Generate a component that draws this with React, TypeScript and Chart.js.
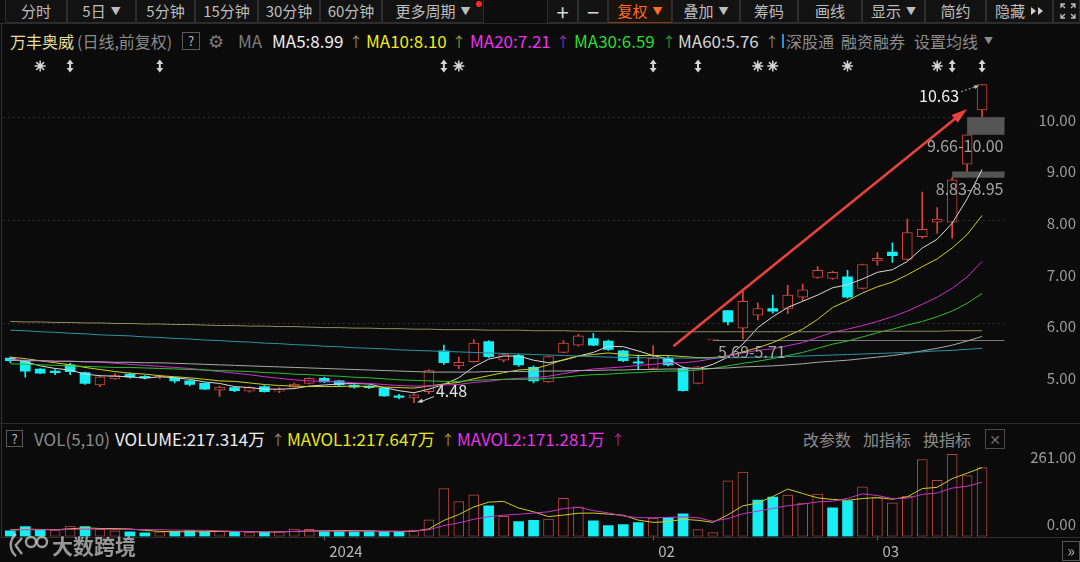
import React, { useEffect, useRef } from 'react';
import { Chart, registerables } from 'chart.js';

Chart.register(...registerables);

const FONT = '"Noto Sans CJK SC", "Noto Sans", "DejaVu Sans", sans-serif';
Chart.defaults.font.family = FONT;

// ---------------- data ----------------
const dates = [
  '2023-12-01', '2023-12-04', '2023-12-05', '2023-12-06', '2023-12-07', '2023-12-08', '2023-12-11', '2023-12-12', '2023-12-13', '2023-12-14',
  '2023-12-15', '2023-12-18', '2023-12-19', '2023-12-20', '2023-12-21', '2023-12-22', '2023-12-25', '2023-12-26', '2023-12-27', '2023-12-28',
  '2023-12-29', '2024-01-02', '2024-01-03', '2024-01-04', '2024-01-05', '2024-01-08', '2024-01-09', '2024-01-10', '2024-01-11', '2024-01-12',
  '2024-01-15', '2024-01-16', '2024-01-17', '2024-01-18', '2024-01-19', '2024-01-22', '2024-01-23', '2024-01-24', '2024-01-25', '2024-01-26',
  '2024-01-29', '2024-01-30', '2024-01-31', '2024-02-01', '2024-02-02', '2024-02-05', '2024-02-06', '2024-02-07', '2024-02-08', '2024-02-19',
  '2024-02-20', '2024-02-21', '2024-02-22', '2024-02-23', '2024-02-26', '2024-02-27', '2024-02-28', '2024-02-29', '2024-03-01', '2024-03-04',
  '2024-03-05', '2024-03-06', '2024-03-07', '2024-03-08', '2024-03-11', '2024-03-12',
];

const opens = [
  5.34, 5.28, 5.13, 5.09, 5.21, 5.06, 4.82, 4.94, 5.03, 4.99,
  4.97, 4.96, 4.90, 4.85, 4.72, 4.77, 4.70, 4.79, 4.70, 4.78,
  4.85, 4.95, 4.90, 4.82, 4.80, 4.76, 4.61, 4.57, 4.69, 5.48,
  5.19, 5.27, 5.66, 5.30, 5.39, 5.16, 4.88, 5.45, 5.59, 5.72,
  5.67, 5.48, 5.27, 5.14, 5.34, 5.14, 4.85, 5.69, 6.26, 5.92,
  6.17, 6.30, 6.30, 6.52, 6.90, 6.88, 6.91, 6.69, 7.22, 7.39,
  7.25, 7.69, 7.97, 7.97, 9.09, 10.14,
];
const highs = [
  5.36, 5.30, 5.14, 5.12, 5.24, 5.07, 4.99, 5.04, 5.05, 5.00,
  5.01, 4.97, 4.91, 4.86, 4.80, 4.78, 4.79, 4.81, 4.77, 4.86,
  4.96, 4.97, 4.91, 4.83, 4.81, 4.77, 4.64, 4.65, 5.12, 5.59,
  5.36, 5.70, 5.68, 5.43, 5.42, 5.19, 5.38, 5.68, 5.80, 5.82,
  5.69, 5.49, 5.40, 5.58, 5.37, 5.17, 5.18, 5.69, 6.26, 6.64,
  6.41, 6.56, 6.75, 6.77, 7.11, 7.02, 7.04, 7.16, 7.38, 7.57,
  8.03, 8.55, 8.25, 8.83, 9.66, 10.63,
];
const lows = [
  5.25, 4.97, 5.04, 5.02, 5.02, 4.83, 4.79, 4.93, 4.95, 4.94,
  4.94, 4.86, 4.80, 4.73, 4.60, 4.69, 4.68, 4.68, 4.67, 4.76,
  4.84, 4.87, 4.80, 4.76, 4.75, 4.60, 4.55, 4.48, 4.65, 5.22,
  5.13, 5.26, 5.35, 5.26, 5.18, 4.86, 4.87, 5.44, 5.57, 5.58,
  5.49, 5.27, 5.11, 5.12, 5.19, 4.70, 4.84, 5.69, 5.98, 5.71,
  6.08, 6.21, 6.20, 6.45, 6.88, 6.86, 6.50, 6.68, 7.14, 7.19,
  7.24, 7.66, 7.75, 7.66, 8.95, 10.00,
];
const closes = [
  5.29, 5.09, 5.05, 5.06, 5.08, 4.85, 4.98, 5.00, 4.97, 4.96,
  4.98, 4.90, 4.83, 4.74, 4.78, 4.71, 4.77, 4.69, 4.73, 4.84,
  4.95, 4.88, 4.82, 4.78, 4.77, 4.61, 4.58, 4.63, 5.10, 5.25,
  5.26, 5.63, 5.37, 5.41, 5.21, 4.90, 5.37, 5.63, 5.77, 5.59,
  5.51, 5.29, 5.24, 5.34, 5.21, 4.71, 5.17, 5.69, 6.04, 6.44,
  6.30, 6.25, 6.56, 6.66, 7.04, 7.00, 6.52, 7.15, 7.27, 7.32,
  7.77, 7.83, 8.03, 8.79, 9.66, 10.63,
];
const closeBeforeFirst = 5.36;

const ma5 = [
  5.33, 5.27, 5.19, 5.14, 5.11, 5.03, 5.00, 4.99, 4.98, 4.95,
  4.98, 4.96, 4.93, 4.88, 4.85, 4.79, 4.77, 4.74, 4.74, 4.75,
  4.80, 4.82, 4.84, 4.85, 4.84, 4.77, 4.71, 4.67, 4.74, 4.83,
  4.96, 5.17, 5.32, 5.38, 5.38, 5.30, 5.25, 5.30, 5.38, 5.45,
  5.57, 5.56, 5.48, 5.39, 5.32, 5.16, 5.13, 5.22, 5.36, 5.61,
  5.93, 6.14, 6.32, 6.44, 6.56, 6.70, 6.76, 6.87, 7.00, 7.05,
  7.21, 7.47, 7.64, 7.95, 8.42, 8.99,
];
const ma10 = [
  5.36, 5.33, 5.29, 5.25, 5.21, 5.16, 5.12, 5.08, 5.05, 5.03,
  5.00, 4.98, 4.96, 4.93, 4.90, 4.89, 4.86, 4.83, 4.81, 4.80,
  4.79, 4.79, 4.79, 4.80, 4.79, 4.78, 4.77, 4.76, 4.80, 4.84,
  4.87, 4.94, 5.00, 5.06, 5.11, 5.13, 5.21, 5.31, 5.38, 5.41,
  5.44, 5.41, 5.39, 5.39, 5.39, 5.37, 5.35, 5.35, 5.38, 5.46,
  5.54, 5.64, 5.77, 5.90, 6.09, 6.32, 6.45, 6.60, 6.72, 6.81,
  6.95, 7.11, 7.26, 7.47, 7.73, 8.10,
];
const ma20 = [
  5.31, 5.30, 5.29, 5.28, 5.28, 5.27, 5.26, 5.24, 5.22, 5.20,
  5.18, 5.16, 5.14, 5.11, 5.08, 5.05, 5.02, 4.98, 4.95, 4.92,
  4.90, 4.89, 4.88, 4.86, 4.85, 4.83, 4.81, 4.80, 4.80, 4.82,
  4.83, 4.87, 4.89, 4.93, 4.95, 4.96, 4.99, 5.04, 5.09, 5.13,
  5.15, 5.17, 5.20, 5.22, 5.25, 5.25, 5.28, 5.33, 5.38, 5.44,
  5.49, 5.52, 5.58, 5.64, 5.74, 5.84, 5.90, 5.97, 6.05, 6.14,
  6.25, 6.38, 6.52, 6.69, 6.91, 7.21,
];
const ma30 = [
  5.23, 5.22, 5.21, 5.20, 5.19, 5.18, 5.17, 5.16, 5.16, 5.15,
  5.14, 5.13, 5.12, 5.11, 5.10, 5.09, 5.08, 5.06, 5.05, 5.03,
  5.02, 5.00, 4.99, 4.97, 4.96, 4.94, 4.92, 4.91, 4.90, 4.89,
  4.89, 4.91, 4.92, 4.93, 4.93, 4.93, 4.95, 4.97, 5.00, 5.02,
  5.03, 5.05, 5.06, 5.08, 5.09, 5.09, 5.11, 5.14, 5.19, 5.24,
  5.28, 5.33, 5.39, 5.45, 5.53, 5.61, 5.67, 5.75, 5.83, 5.90,
  5.98, 6.05, 6.14, 6.25, 6.40, 6.59,
];
const ma60 = [
  5.30, 5.29, 5.29, 5.28, 5.28, 5.27, 5.27, 5.26, 5.26, 5.25,
  5.25, 5.24, 5.23, 5.22, 5.21, 5.20, 5.19, 5.18, 5.17, 5.16,
  5.15, 5.14, 5.13, 5.12, 5.11, 5.10, 5.09, 5.08, 5.07, 5.07,
  5.07, 5.07, 5.08, 5.08, 5.08, 5.08, 5.09, 5.09, 5.10, 5.10,
  5.11, 5.11, 5.12, 5.12, 5.13, 5.13, 5.14, 5.14, 5.15, 5.17,
  5.18, 5.19, 5.21, 5.23, 5.26, 5.28, 5.30, 5.33, 5.36, 5.39,
  5.43, 5.48, 5.53, 5.59, 5.67, 5.76,
];
const longLineKhaki = [
  6.05, 6.04, 6.04, 6.03, 6.03, 6.02, 6.02, 6.01, 6.01, 6.00,
  6.00, 5.99, 5.99, 5.98, 5.97, 5.97, 5.96, 5.96, 5.95, 5.95,
  5.94, 5.93, 5.93, 5.92, 5.92, 5.91, 5.91, 5.90, 5.90, 5.89,
  5.89, 5.89, 5.88, 5.88, 5.88, 5.87, 5.87, 5.87, 5.86, 5.86,
  5.86, 5.86, 5.85, 5.85, 5.85, 5.85, 5.85, 5.85, 5.85, 5.85,
  5.85, 5.85, 5.85, 5.85, 5.85, 5.85, 5.85, 5.86, 5.86, 5.86,
  5.86, 5.86, 5.86, 5.87, 5.87, 5.87,
];
const longLineTeal = [
  5.88, 5.87, 5.85, 5.84, 5.82, 5.81, 5.79, 5.78, 5.77, 5.75,
  5.74, 5.72, 5.71, 5.69, 5.68, 5.66, 5.65, 5.63, 5.62, 5.60,
  5.59, 5.57, 5.56, 5.54, 5.53, 5.52, 5.50, 5.49, 5.48, 5.47,
  5.46, 5.45, 5.44, 5.43, 5.42, 5.41, 5.40, 5.39, 5.38, 5.37,
  5.36, 5.35, 5.35, 5.34, 5.34, 5.34, 5.34, 5.34, 5.35, 5.35,
  5.36, 5.36, 5.37, 5.38, 5.39, 5.40, 5.41, 5.42, 5.43, 5.44,
  5.45, 5.46, 5.48, 5.49, 5.51, 5.53,
];

// volume in 万
const volumes = [
  17.5, 30.7, 19.7, 19.7, 33.0, 30.7, 22.0, 17.5, 14.3, 11.0,
  14.3, 15.4, 18.6, 14.3, 16.4, 14.3, 13.2, 13.2, 14.3, 23.0,
  22.0, 16.4, 16.4, 14.3, 17.5, 15.4, 13.2, 19.7, 52.6, 151.0,
  109.7, 131.6, 96.5, 63.6, 47.2, 50.4, 54.8, 120.6, 93.2, 49.3,
  34.0, 37.3, 43.9, 57.0, 60.3, 71.3, 21.9, 12.0, 175.5, 202.9,
  115.1, 123.9, 130.5, 105.3, 133.8, 89.9, 112.0, 157.0, 122.0, 106.0,
  127.6, 243.0, 177.0, 259.0, 191.9, 217.3,
];
const mavol1 = [
  21, 23, 22, 21, 24.1, 26.8, 25.0, 24.6, 23.5, 19.1,
  15.8, 14.5, 14.7, 14.7, 15.8, 15.8, 15.4, 14.3, 14.3, 15.6,
  17.1, 17.8, 18.4, 18.4, 17.3, 16.0, 15.4, 16.0, 23.7, 50.4,
  69.2, 92.9, 108.3, 110.5, 89.7, 77.9, 62.5, 67.3, 73.2, 73.7,
  70.4, 66.9, 51.5, 44.3, 46.5, 54.0, 50.9, 44.5, 68.2, 96.7,
  105.5, 125.9, 149.6, 135.5, 121.7, 116.7, 114.3, 119.6, 122.9, 117.4,
  124.9, 151.1, 155.1, 182.5, 199.7, 217.6,
];
const mavol2 = [
  20, 21, 21, 21, 22, 23, 23, 22, 22, 21.6,
  21.3, 19.8, 19.7, 19.1, 17.5, 15.8, 14.9, 14.5, 14.5, 15.7,
  16.5, 16.6, 16.4, 16.4, 16.5, 16.6, 16.6, 17.2, 21.1, 33.9,
  42.6, 54.1, 62.2, 67.1, 70.1, 73.6, 77.7, 87.8, 91.9, 81.7,
  74.1, 64.7, 59.4, 58.8, 60.1, 62.2, 58.9, 48.0, 56.3, 71.6,
  79.7, 88.4, 97.0, 101.9, 109.2, 111.1, 120.1, 134.6, 129.2, 119.6,
  120.8, 132.7, 137.4, 152.7, 158.5, 171.3,
];

const priceTicks = [5, 6, 7, 8, 9, 10];
const volumeTicks = [0, 261];
const axisTickDates = ['2024-01-02', '2024-02-01', '2024-03-01'];
const axisTickTexts = ['2024', '02', '03'];

// info markers above the candles
const markerIndex = [2, 4, 10, 29, 30, 43, 46, 50, 51, 56, 62, 63, 65];
const markerKind = ['star', 'arrow', 'arrow', 'arrow', 'star', 'arrow', 'arrow', 'star', 'star', 'star', 'star', 'arrow', 'arrow'];

// gap zones
const gapLow = [5.69, 8.83, 9.66];
const gapHigh = [5.71, 8.95, 10.0];
const gapStart = [47, 63, 64];

// extreme labels
const highMarkIndex = 65;
const highMarkValue = 10.63;
const lowMarkIndex = 27;
const lowMarkValue = 4.48;

// hand-drawn trend arrow (index, price)
const trendFrom = [44.35, 5.57];
const trendTo = [64.0, 10.16];

// ---------------- style ----------------
const BG = '#0b0b0b';
const RED = '#d8463f';
const VRED = '#b9473f';
const CYAN = '#16eef3';
const GRID = '#2f2f2f';
const AXIS_TEXT = '#9c9c9c';

const labels = [...dates, ''];

function arrowHead(ctx: any, x1: number, y1: number, x2: number, y2: number, len: number, w: number, color: string) {
  const a = Math.atan2(y2 - y1, x2 - x1);
  const bx = x2 - len * Math.cos(a);
  const by = y2 - len * Math.sin(a);
  ctx.beginPath();
  ctx.moveTo(x2, y2);
  ctx.lineTo(bx + (w / 2) * Math.sin(a), by - (w / 2) * Math.cos(a));
  ctx.lineTo(bx - (w / 2) * Math.sin(a), by + (w / 2) * Math.cos(a));
  ctx.closePath();
  ctx.fillStyle = color;
  ctx.fill();
}

function drawStar(ctx: any, x: number, y: number) {
  ctx.save();
  ctx.strokeStyle = '#d4d4d4';
  ctx.fillStyle = '#d4d4d4';
  ctx.lineWidth = 1.5;
  for (let k = 0; k < 8; k++) {
    const a = (k * Math.PI) / 4;
    ctx.beginPath();
    ctx.moveTo(x, y);
    ctx.lineTo(x + 5.5 * Math.cos(a), y + 5.5 * Math.sin(a));
    ctx.stroke();
  }
  ctx.beginPath();
  ctx.arc(x, y, 2.4, 0, Math.PI * 2);
  ctx.fill();
  ctx.restore();
}

function drawUpDown(ctx: any, x: number, y: number) {
  ctx.save();
  ctx.fillStyle = '#d4d4d4';
  ctx.beginPath();
  ctx.moveTo(x, y - 6.5);
  ctx.lineTo(x + 3.5, y - 2);
  ctx.lineTo(x - 3.5, y - 2);
  ctx.closePath();
  ctx.fill();
  ctx.beginPath();
  ctx.moveTo(x, y + 6.5);
  ctx.lineTo(x + 3.5, y + 2);
  ctx.lineTo(x - 3.5, y + 2);
  ctx.closePath();
  ctx.fill();
  ctx.fillRect(x - 1, y - 2.5, 2, 5);
  ctx.restore();
}

const priceOverlay = {
  id: 'priceOverlay',
  beforeDatasetsDraw(chart: any) {
    const { ctx, chartArea } = chart;
    const xs = chart.scales.x;
    const ys = chart.scales.y;
    ctx.save();
    for (let k = 0; k < gapLow.length; k++) {
      const x0 = xs.getPixelForValue(gapStart[k]);
      const yTop = ys.getPixelForValue(gapHigh[k]);
      const yBot = ys.getPixelForValue(gapLow[k]);
      if (yBot - yTop < 3) {
        const ly = Math.round((yTop + yBot) / 2) + 0.5;
        ctx.strokeStyle = '#7a7a7a';
        ctx.lineWidth = 1;
        ctx.beginPath();
        ctx.moveTo(x0, ly);
        ctx.lineTo(chartArea.right, ly);
        ctx.stroke();
      } else {
        ctx.fillStyle = '#555555';
        ctx.fillRect(x0, yTop, chartArea.right - x0, yBot - yTop);
      }
    }
    ctx.restore();
  },
  afterDatasetsDraw(chart: any) {
    const { ctx, chartArea } = chart;
    const xs = chart.scales.x;
    const ys = chart.scales.y;
    ctx.save();
    // gap labels
    ctx.font = `16px ${FONT}`;
    ctx.fillStyle = '#a4a4a4';
    ctx.textBaseline = 'middle';
    for (let k = 0; k < gapLow.length; k++) {
      const x0 = xs.getPixelForValue(gapStart[k]);
      const yTop = ys.getPixelForValue(gapHigh[k]);
      const yBot = ys.getPixelForValue(gapLow[k]);
      const txt = `${gapLow[k].toFixed(2)}-${gapHigh[k].toFixed(2)}`;
      if (yBot - yTop < 3) {
        ctx.textAlign = 'left';
        ctx.fillText(txt, x0 + 5, yBot + 12);
      } else {
        ctx.textAlign = 'right';
        ctx.fillText(txt, chartArea.right - 1, yBot + 11.5);
      }
    }

    // trend arrow
    const ax1 = xs.getPixelForValue(trendFrom[0]);
    const ay1 = ys.getPixelForValue(trendFrom[1]);
    const ax2 = xs.getPixelForValue(trendTo[0]);
    const ay2 = ys.getPixelForValue(trendTo[1]);
    const ang = Math.atan2(ay2 - ay1, ax2 - ax1);
    ctx.strokeStyle = '#e8423b';
    ctx.lineWidth = 2.6;
    ctx.beginPath();
    ctx.moveTo(ax1, ay1);
    ctx.lineTo(ax2 - 10 * Math.cos(ang), ay2 - 10 * Math.sin(ang));
    ctx.stroke();
    arrowHead(ctx, ax1, ay1, ax2, ay2, 16, 10, '#e8423b');

    // high label
    const hx = xs.getPixelForValue(highMarkIndex);
    const hy = ys.getPixelForValue(highMarkValue);
    ctx.font = `16px ${FONT}`;
    ctx.fillStyle = '#f2f2f2';
    ctx.textAlign = 'right';
    ctx.fillText(highMarkValue.toFixed(2), hx - 23, hy + 11);
    ctx.strokeStyle = '#bdbdbd';
    ctx.lineWidth = 1;
    ctx.setLineDash([2, 2]);
    ctx.beginPath();
    ctx.moveTo(hx - 21, hy + 7);
    ctx.lineTo(hx - 5, hy + 1.5);
    ctx.stroke();
    ctx.setLineDash([]);
    arrowHead(ctx, hx - 21, hy + 7, hx - 3, hy + 1, 5, 4, '#bdbdbd');

    // low label
    const lx = xs.getPixelForValue(lowMarkIndex);
    const lyy = ys.getPixelForValue(lowMarkValue);
    ctx.fillStyle = '#e6e6e6';
    ctx.textAlign = 'left';
    ctx.fillText(lowMarkValue.toFixed(2), lx + 22, lyy - 12);
    ctx.strokeStyle = '#d0d0d0';
    ctx.beginPath();
    ctx.moveTo(lx + 20, lyy - 6);
    ctx.lineTo(lx + 6, lyy - 0.5);
    ctx.stroke();
    arrowHead(ctx, lx + 20, lyy - 6, lx + 3, lyy, 6, 4, '#d0d0d0');

    // info markers
    for (let k = 0; k < markerIndex.length; k++) {
      const mx = xs.getPixelForValue(markerIndex[k]);
      const my = chartArea.top + 10;
      if (markerKind[k] === 'star') drawStar(ctx, mx, my);
      else drawUpDown(ctx, mx, my);
    }

    // price axis labels
    ctx.font = `15px ${FONT}`;
    ctx.fillStyle = AXIS_TEXT;
    ctx.textAlign = 'right';
    ctx.textBaseline = 'middle';
    for (const v of priceTicks) {
      ctx.fillText(v.toFixed(2), chart.width - 4, ys.getPixelForValue(v) + 2.7);
    }
    ctx.restore();
  },
};

const volumeOverlay = {
  id: 'volumeOverlay',
  afterDatasetsDraw(chart: any) {
    const { ctx } = chart;
    const ys = chart.scales.y;
    ctx.save();
    ctx.font = `15px ${FONT}`;
    ctx.fillStyle = AXIS_TEXT;
    ctx.textAlign = 'right';
    ctx.textBaseline = 'middle';
    const top = volumeTicks[volumeTicks.length - 1];
    ctx.fillText(top.toFixed(2), chart.width - 4, ys.getPixelForValue(top) + 3.4);
    ctx.fillText(volumeTicks[0].toFixed(2), chart.width - 4, ys.getPixelForValue(volumeTicks[0]) - 12);
    ctx.restore();
  },
};

function lineDs(data: number[], color: string, width = 1) {
  return {
    type: 'line' as const,
    data,
    borderColor: color,
    borderWidth: width,
    pointRadius: 0,
    tension: 0,
    fill: false,
    order: 1,
  };
}

function priceConfig(): any {
  const up = closes.map((c, i) => c >= opens[i]);
  const candleColor = up.map((u) => (u ? RED : CYAN));
  return {
    type: 'bar',
    data: {
      labels,
      datasets: [
        lineDs(longLineKhaki, '#8f8d5c'),
        lineDs(longLineTeal, '#2b94a2'),
        lineDs(ma60, '#a9a9a9'),
        lineDs(ma30, '#2fbd2f'),
        lineDs(ma20, '#cf2fcf'),
        lineDs(ma10, '#cfcf1e'),
        lineDs(ma5, '#d9d9d9'),
        {
          type: 'bar',
          data: opens.map((o, i) => [o, closes[i]]),
          backgroundColor: up.map((u) => (u ? BG : CYAN)),
          borderColor: candleColor,
          borderWidth: up.map((u) => (u ? 1 : 0)),
          borderSkipped: false,
          barThickness: 10,
          minBarLength: 1,
          grouped: false,
          order: 2,
        },
        {
          type: 'bar',
          data: lows.map((l, i) => [l, highs[i]]),
          backgroundColor: candleColor,
          borderWidth: 0,
          barThickness: 1,
          grouped: false,
          order: 3,
        },
      ],
    },
    options: {
      responsive: false,
      animation: false,
      events: [],
      layout: { padding: { left: 2.8, right: 0, top: 0, bottom: 0 } },
      plugins: { legend: { display: false }, tooltip: { enabled: false } },
      scales: {
        x: { type: 'category', offset: true, display: false, grid: { display: false } },
        y: {
          position: 'right',
          min: 4.1044,
          max: 11.1838,
          afterFit: (s: any) => {
            s.width = 75.5;
          },
          afterBuildTicks: (s: any) => {
            s.ticks = priceTicks.map((v) => ({ value: v }));
          },
          ticks: { display: false },
          grid: {
            drawTicks: false,
            lineWidth: 1,
            color: (c: any) => (c.tick && c.tick.value % 2 === 0 ? GRID : 'rgba(0,0,0,0)'),
          },
          border: { display: false, dash: [2, 3] },
        },
      },
    },
    plugins: [priceOverlay],
  };
}

function volumeConfig(): any {
  const volUp = closes.map((c, i) => c >= (i === 0 ? closeBeforeFirst : closes[i - 1]));
  const tickIdx = axisTickDates.map((d) => dates.indexOf(d));
  return {
    type: 'bar',
    data: {
      labels,
      datasets: [
        lineDs(mavol2, '#c634c6'),
        lineDs(mavol1, '#cfcd20'),
        {
          type: 'bar',
          data: volumes,
          backgroundColor: volUp.map((u) => (u ? BG : CYAN)),
          borderColor: volUp.map((u) => (u ? VRED : CYAN)),
          borderWidth: volUp.map((u) => (u ? 1 : 0)),
          borderSkipped: false,
          barThickness: 10,
          grouped: false,
          order: 2,
        },
      ],
    },
    options: {
      responsive: false,
      animation: false,
      events: [],
      layout: { padding: { left: 2.8, right: 0, top: 4.8, bottom: 0 } },
      plugins: { legend: { display: false }, tooltip: { enabled: false } },
      scales: {
        x: {
          type: 'category',
          offset: true,
          afterFit: (s: any) => {
            s.height = 25.6;
          },
          grid: {
            offset: false,
            drawOnChartArea: false,
            drawTicks: true,
            tickLength: 4,
            color: (c: any) => (tickIdx.includes(c.index) ? '#6a6a6a' : 'rgba(0,0,0,0)'),
          },
          border: { display: false },
          ticks: {
            autoSkip: false,
            maxRotation: 0,
            minRotation: 0,
            align: 'start',
            labelOffset: 5,
            padding: 2,
            color: '#b8b8b8',
            font: { size: 15 },
            callback: (_v: any, i: number) => {
              const k = axisTickDates.indexOf(dates[i]);
              return k >= 0 ? axisTickTexts[k] : '';
            },
          },
        },
        y: {
          position: 'right',
          min: volumeTicks[0],
          max: volumeTicks[volumeTicks.length - 1],
          afterFit: (s: any) => {
            s.width = 75.5;
          },
          ticks: { display: false },
          grid: { display: false },
          border: { display: false },
        },
      },
    },
    plugins: [volumeOverlay],
  };
}

// ---------------- UI chrome ----------------
const toolbarButtons = [
  { t: '分时', l: 5, r: 67 },
  { t: '5日', l: 67, r: 136, caret: true },
  { t: '5分钟', l: 136, r: 195 },
  { t: '15分钟', l: 195, r: 258 },
  { t: '30分钟', l: 258, r: 320 },
  { t: '60分钟', l: 320, r: 382 },
  { t: '更多周期', l: 382, r: 484, caret: true, dot: true },
  { t: '+', l: 547, r: 578, big: true },
  { t: '−', l: 578, r: 608, big: true },
  { t: '复权', l: 608, r: 672, caret: true, active: true },
  { t: '叠加', l: 672, r: 740, caret: true },
  { t: '筹码', l: 740, r: 798 },
  { t: '画线', l: 798, r: 862 },
  { t: '显示', l: 862, r: 925, caret: true },
  { t: '简约', l: 925, r: 986 },
  { t: '隐藏', l: 986, r: 1053, extra: true },
  { t: '', l: 1053, r: 1080, icon: true },
];

const abs = (l: number, t: number, extra: any = {}) => ({ position: 'absolute' as const, left: l, top: t, whiteSpace: 'nowrap' as const, ...extra });

const LAT = 17; // latin text size in legend rows
const CJK = 16; // chinese text size in legend rows

export default function App() {
  const priceRef = useRef<HTMLCanvasElement>(null);
  const volRef = useRef<HTMLCanvasElement>(null);

  useEffect(() => {
    document.body.style.margin = '0';
    document.body.style.background = BG;
    const pc = new Chart(priceRef.current as HTMLCanvasElement, priceConfig());
    const vc = new Chart(volRef.current as HTMLCanvasElement, volumeConfig());
    return () => {
      pc.destroy();
      vc.destroy();
    };
  }, []);

  const rowFont = { fontSize: CJK, lineHeight: '20px', fontFamily: FONT };

  return (
    <div
      style={{
        position: 'fixed',
        left: 0,
        top: 0,
        width: 1080,
        height: 562,
        background: BG,
        overflow: 'hidden',
        fontFamily: FONT,
        color: '#c0c0c0',
      }}
    >
      {/* toolbar */}
      <div style={abs(0, 0, { width: 1080, height: 23, background: '#0d0d0d', borderBottom: '1px solid #2b2b2b' })} />
      {toolbarButtons.map((b, i) => (
        <div
          key={i}
          style={abs(b.l, 0, {
            width: b.r - b.l,
            height: 23,
            boxSizing: 'border-box',
            borderLeft: '1px solid #2e2e2e',
            borderRight: '1px solid #2e2e2e',
            borderBottom: b.active ? '1px solid #8a3d12' : '1px solid #2e2e2e',
            background: b.active ? '#1a120d' : '#121212',
            textAlign: 'center',
            fontSize: b.big ? 22 : 15,
            lineHeight: '22px',
            color: b.active ? '#ff6d22' : b.big ? '#d8d8d8' : '#bdbdbd',
          })}
        >
          {b.t}
          {b.caret ? <span style={{ fontSize: 10, marginLeft: 5, verticalAlign: 2 }}>▼</span> : null}
          {b.extra ? (
            <svg width="14" height="10" viewBox="0 0 14 10" style={{ marginLeft: 5, verticalAlign: 1 }}>
              <path d="M1 1 L6 5 L1 9 Z M8 1 L13 5 L8 9 Z" fill="#d0d0d0" />
            </svg>
          ) : null}
          {b.dot ? <span style={abs(b.r - b.l - 9, 1, { width: 6, height: 6, borderRadius: 3, background: '#ff2a2a' })} /> : null}
          {b.icon ? (
            <svg width="16" height="16" viewBox="0 0 16 16" style={{ position: 'absolute', left: 6, top: 3 }}>
              <g stroke="#bdbdbd" strokeWidth="1.3" fill="none">
                <path d="M1 5 V1 H5 M1 1 L5 5" />
                <path d="M11 1 H15 V5 M15 1 L11 5" />
                <path d="M1 11 V15 H5 M1 15 L5 11" />
                <path d="M15 11 V15 H11 M15 15 L11 11" />
              </g>
            </svg>
          ) : null}
        </div>
      ))}

      {/* price legend row */}
      <div style={{ ...rowFont, position: 'absolute', left: 0, top: 31, width: 1080, height: 20 }}>
        <span style={abs(10, 0, { color: '#eadc9c' })}>万丰奥威</span>
        <span style={abs(77, 0, { color: '#8a8a8a' })}>(日线,前复权)</span>
        <span style={abs(182, 1, { width: 18, height: 18, boxSizing: 'border-box', border: '1px solid #5a5a5a', fontSize: 13, lineHeight: '16px', textAlign: 'center', color: '#bbbbbb' })}>?</span>
        <span style={abs(208, -1, { color: '#7c7c7c', fontSize: 18 })}>⚙</span>
        <span style={abs(238, 0, { color: '#7c7c7c', fontSize: LAT })}>MA</span>
        <span style={abs(272, 0, { color: '#eeeeee', fontSize: LAT })}>MA5:8.99</span>
        <span style={abs(349, 0, { color: '#8a8a8a', fontSize: 14 })}>↑</span>
        <span style={abs(366, 0, { color: '#eded1f', fontSize: LAT })}>MA10:8.10</span>
        <span style={abs(452, 0, { color: '#9d9d24', fontSize: 14 })}>↑</span>
        <span style={abs(470, 0, { color: '#ee33ee', fontSize: LAT })}>MA20:7.21</span>
        <span style={abs(556, 0, { color: '#a32ca3', fontSize: 14 })}>↑</span>
        <span style={abs(574, 0, { color: '#2fdc2f', fontSize: LAT })}>MA30:6.59</span>
        <span style={abs(662, 0, { color: '#2c9f2c', fontSize: 14 })}>↑</span>
        <span style={abs(678, 0, { color: '#d6d6d6', fontSize: LAT })}>MA60:5.76</span>
        <span style={abs(765, 0, { color: '#8a8a8a', fontSize: 14 })}>↑</span>
        <span style={abs(782, 3, { width: 2, height: 14, background: '#2f8fd6' })} />
        <span style={abs(786, 0, { color: '#8c8c8c' })}>深股通</span>
        <span style={abs(841, 0, { color: '#8c8c8c' })}>融资融券</span>
        <span style={abs(914, 0, { color: '#8c8c8c' })}>设置均线</span>
        <span style={abs(984, 0, { color: '#8c8c8c', fontSize: 9 })}>▼</span>
      </div>

      <canvas ref={priceRef} width={1080} height={366} style={abs(0, 56, { width: 1080, height: 366 })} />

      {/* panel separator */}
      <div style={abs(0, 423, { width: 1080, height: 1, background: '#2b2b2b' })} />

      {/* volume legend row */}
      <div style={{ ...rowFont, position: 'absolute', left: 0, top: 429, width: 1080, height: 20 }}>
        <span style={abs(6, 1, { width: 17, height: 17, boxSizing: 'border-box', border: '1px solid #5a5a5a', fontSize: 13, lineHeight: '15px', textAlign: 'center', color: '#bbbbbb' })}>?</span>
        <span style={abs(34, 0, { color: '#8a8a8a', fontSize: LAT })}>VOL(5,10)</span>
        <span style={abs(115, 0, { color: '#eeeeee', fontSize: LAT })}>VOLUME:217.314万</span>
        <span style={abs(271, 0, { color: '#8a8a8a', fontSize: 14 })}>↑</span>
        <span style={abs(287, 0, { color: '#e6e61f', fontSize: LAT })}>MAVOL1:217.647万</span>
        <span style={abs(441, 0, { color: '#9d9d24', fontSize: 14 })}>↑</span>
        <span style={abs(457, 0, { color: '#e433e4', fontSize: LAT })}>MAVOL2:171.281万</span>
        <span style={abs(611, 0, { color: '#a32ca3', fontSize: 14 })}>↑</span>
        <span style={abs(803, 0, { color: '#8c8c8c' })}>改参数</span>
        <span style={abs(863, 0, { color: '#8c8c8c' })}>加指标</span>
        <span style={abs(923, 0, { color: '#8c8c8c' })}>换指标</span>
        <span style={abs(985, 0, { width: 20, height: 20, boxSizing: 'border-box', border: '1px solid #4a4a4a', fontSize: 14, lineHeight: '18px', textAlign: 'center', color: '#6e6e6e' })}>✕</span>
      </div>

      <canvas ref={volRef} width={1080} height={113} style={abs(0, 449, { width: 1080, height: 113 })} />

      {/* x-axis separator */}
      <div style={abs(0, 537, { width: 1080, height: 1, background: '#2f2f2f' })} />
      {/* left border */}
      <div style={abs(1, 23, { width: 1, height: 515, background: '#333333' })} />

      {/* bottom-right button */}
      <div style={abs(1062, 541, { width: 18, height: 20, boxSizing: 'border-box', border: '1px solid #555', color: '#b0b0b0', fontSize: 16, lineHeight: '16px', textAlign: 'center' })}>»</div>

      {/* watermark */}
      <svg width="42" height="28" viewBox="0 0 42 28" style={abs(7, 531)}>
        <g stroke="rgba(205,205,205,0.75)" strokeWidth="2.4" fill="none">
          <path d="M9 3 C2 9 2 19 9 25" />
          <path d="M8 15 L15 7" />
          <path d="M9 15 L15 23" />
          <circle cx="24" cy="11" r="5" />
          <circle cx="35" cy="11" r="5" />
        </g>
      </svg>
      <span style={abs(52, 532, { fontSize: 21, fontWeight: 700, lineHeight: '26px', color: 'rgba(205,205,205,0.72)' })}>大数跨境</span>
    </div>
  );
}
